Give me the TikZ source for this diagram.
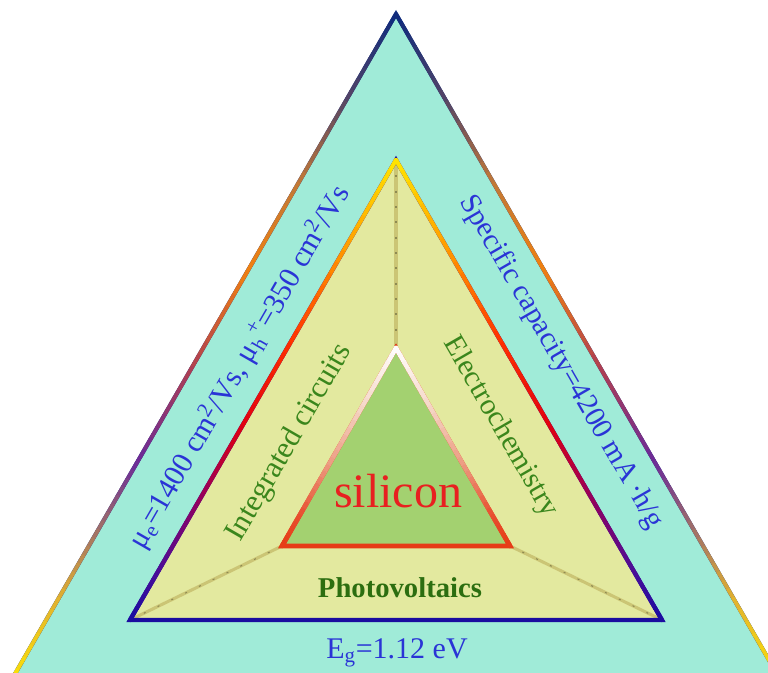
\documentclass[tikz,border=0pt]{standalone}
\usepackage{fontspec}
\setmainfont{Liberation Serif}
\usetikzlibrary{calc,positioning}

\definecolor{turquesa}{HTML}{A0EBD8}
\definecolor{crema}{HTML}{E3E99F}
\definecolor{verdecl}{HTML}{A3D170}
\definecolor{radio}{HTML}{CBC575}
\definecolor{radiodk}{HTML}{8E8A52}
\definecolor{azultxt}{HTML}{2A34D6}
\definecolor{verdetxt}{HTML}{3A861C}
\definecolor{verdeosc}{HTML}{2C6E10}
\definecolor{rojotxt}{HTML}{E82020}
% borde exterior
\definecolor{oa}{HTML}{0C2A7E}
\definecolor{ob}{HTML}{554565}
\definecolor{oc}{HTML}{C07838}
\definecolor{od}{HTML}{F08010}
\definecolor{oe}{HTML}{B04050}
\definecolor{of}{HTML}{6A2A98}
\definecolor{og}{HTML}{A07068}
\definecolor{oh}{HTML}{E0B030}
\definecolor{oi}{HTML}{FFE800}
% borde medio
\definecolor{ma}{HTML}{FFE800}
\definecolor{mb}{HTML}{FF9A00}
\definecolor{mc}{HTML}{FF3000}
\definecolor{md}{HTML}{E00010}
\definecolor{me}{HTML}{900060}
\definecolor{mf}{HTML}{4A0E98}
\definecolor{mg}{HTML}{1A0CA0}
% borde interior
\definecolor{ia}{HTML}{FFFFFF}
\definecolor{ib}{HTML}{F5D8C8}
\definecolor{ic}{HTML}{EC9A80}
\definecolor{id}{HTML}{E85030}
\definecolor{ie}{HTML}{E63C16}

% lado con degradado: inicio, fin, grosor, tramos t0/t1/color0/color1
\newcommand{\bordegrad}[4]{%
  \foreach \ta/\tb/\ca/\cb in {#4}{
    \foreach \k in {0,...,7}{
      \pgfmathsetmacro\sa{\ta+(\tb-\ta)*\k/8}
      \pgfmathsetmacro\sb{\ta+(\tb-\ta)*(\k+1)/8}
      \pgfmathtruncatemacro\mix{100-(\k+0.5)*12.5}
      \draw[line width=#3, line cap=round, draw=\ca!\mix!\cb]
        ($(#1)!\sa!(#2)$) -- ($(#1)!\sb!(#2)$);
    }
  }
}

\begin{document}
\begin{tikzpicture}[x=0.75pt, y=0.75pt, line join=miter]
	\tikzset{texto/.style={inner sep=0pt, font=\fontsize{23}{27}\selectfont}}
	\tikzstyle{radio}=[draw=radio, line width=2.3pt]
	\tikzstyle{motas}=[draw=radiodk, line width=0.8pt, dash pattern=on 1.5pt off 10pt]

	\useasboundingbox (0,0) rectangle (768,672);
	\clip (0,0) rectangle (768,672);

	%VERTICES
	\coordinate (o0) at (396,658);
	\coordinate (o1) at (3.4,-22);
	\coordinate (o2) at (788.6,-22);
	\coordinate (m0) at (396,512);
	\coordinate (m1) at (130,52);
	\coordinate (m2) at (662,52);
	\coordinate (i0) at (396,324);
	\coordinate (i1) at (282,126);
	\coordinate (i2) at (510,126);

	%TRIANGULO EXTERIOR
	\fill[turquesa] (o0) -- (o1) -- (o2) -- cycle;
	\draw[oa, line width=3pt] (o0) -- (o1) -- (o2) -- cycle;
	\bordegrad{o0}{o1}{3pt}{0/0.13/oa/ob, 0.13/0.25/ob/oc, 0.25/0.38/oc/od, 0.38/0.52/od/oe, 0.52/0.66/oe/of, 0.66/0.76/of/og, 0.76/0.86/og/oh, 0.86/1/oh/oi}
	\bordegrad{o0}{o2}{3pt}{0/0.13/oa/ob, 0.13/0.25/ob/oc, 0.25/0.38/oc/od, 0.38/0.52/od/oe, 0.52/0.66/oe/of, 0.66/0.76/of/og, 0.76/0.86/og/oh, 0.86/1/oh/oi}

	%TRIANGULO MEDIO
	\fill[crema] (m0) -- (m1) -- (m2) -- cycle;
	\draw[radio] (m0) -- (i0);
	\draw[radio] (m1) -- (i1);
	\draw[radio] (m2) -- (i2);
	\draw[motas] (m0) -- (i0);
	\draw[motas] (m1) -- (i1);
	\draw[motas] (m2) -- (i2);
	\draw[mg, line width=3.2pt] (m0) -- (m1) -- (m2) -- cycle;
	\bordegrad{m0}{m1}{3.2pt}{0/0.2/ma/mb, 0.2/0.4/mb/mc, 0.4/0.58/mc/md, 0.58/0.75/md/me, 0.75/0.9/me/mf, 0.9/1/mf/mg}
	\bordegrad{m0}{m2}{3.2pt}{0/0.2/ma/mb, 0.2/0.4/mb/mc, 0.4/0.58/mc/md, 0.58/0.75/md/me, 0.75/0.9/me/mf, 0.9/1/mf/mg}

	%TRIANGULO INTERIOR
	\fill[verdecl] (i0) -- (i1) -- (i2) -- cycle;
	\draw[ie, line width=3.5pt] (i0) -- (i1) -- (i2) -- cycle;
	\bordegrad{i0}{i1}{3.5pt}{0/0.3/ia/ib, 0.3/0.6/ib/ic, 0.6/0.85/ic/id, 0.85/1/id/ie}
	\bordegrad{i0}{i2}{3.5pt}{0/0.3/ia/ib, 0.3/0.6/ib/ic, 0.6/0.85/ic/id, 0.85/1/id/ie}

	%TEXTOS
	\node[texto, rojotxt, font=\fontsize{36}{40}\selectfont] (silicio) at (398,181) {silicon};
	\node[texto, verdeosc, font=\fontsize{21.5}{25}\selectfont\bfseries] (foto) at (400,84) {Photovoltaics};
	\node[texto, verdetxt, rotate=60] (circuitos) at (290,229) {Integrated circuits};
	\node[texto, verdetxt, rotate=-60, font=\fontsize{22.3}{26}\selectfont] (electro) at (500,245) {Electrochemistry};
	\node[texto, azultxt, rotate=60, font=\fontsize{22.5}{27}\selectfont] (movilidad) at (239,305)
		{μ\textsubscript{e}=1400 cm\textsuperscript{2}/Vs, μ\textsubscript{h}\textsuperscript{+}=350 cm\textsuperscript{2}/Vs};
	\node[texto, azultxt, rotate=-60, font=\fontsize{22}{27}\selectfont] (capacidad) at (561,310) {Specific capacity=4200 mA\,·h/g};
	\node[texto, azultxt, anchor=base, font=\fontsize{22.5}{26}\selectfont] (gap) at (397,14) {E\textsubscript{g}=1.12 eV};
\end{tikzpicture}
\end{document}
